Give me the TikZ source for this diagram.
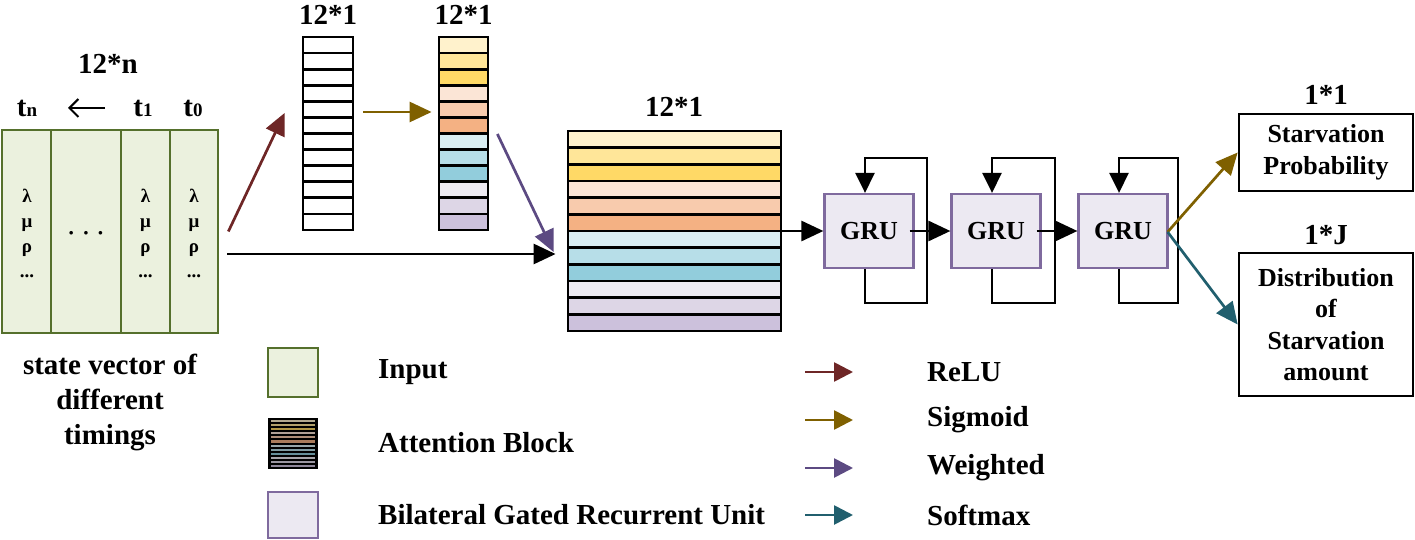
\documentclass[tikz,border=0pt]{standalone}
\usepackage{fontspec}
\setmainfont{Liberation Serif}
\usetikzlibrary{arrows.meta}
\definecolor{ingreen}{HTML}{EBF1DE}
\definecolor{ingreenD}{HTML}{55702C}
\definecolor{grufill}{HTML}{ECE9F2}
\definecolor{gruline}{HTML}{7F6A9E}
\definecolor{creLU}{HTML}{6E2626}
\definecolor{csig}{HTML}{7F6000}
\definecolor{cwgt}{HTML}{5C4A82}
\definecolor{csoft}{HTML}{215F6E}
\definecolor{r1}{HTML}{FFF2CC}
\definecolor{r2}{HTML}{FFE699}
\definecolor{r3}{HTML}{FFD966}
\definecolor{r4}{HTML}{FBE5D6}
\definecolor{r5}{HTML}{F8CBAD}
\definecolor{r6}{HTML}{F4B183}
\definecolor{r7}{HTML}{DAEEF3}
\definecolor{r8}{HTML}{B7DEE8}
\definecolor{r9}{HTML}{92CDDC}
\definecolor{r10}{HTML}{EEEBF3}
\definecolor{r11}{HTML}{DDD6E6}
\definecolor{r12}{HTML}{CCC1DC}
\begin{document}
\begin{tikzpicture}[x=1pt,y=-1pt,
  lbl/.style={font=\bfseries\fontsize{29}{34}\selectfont, inner sep=0pt},
  leg/.style={font=\bfseries\fontsize{29}{34}\selectfont, inner sep=0pt, anchor=west},
  greek/.style={font=\bfseries\fontsize{19}{25}\selectfont, inner sep=0pt, align=center},
  incol/.style={draw=ingreenD, fill=ingreen, line width=2.7pt, minimum height=203pt, inner sep=0pt},
  cellbox/.style={draw=black, line width=2.8pt, inner sep=0pt},
  grubox/.style={draw=gruline, fill=grufill, line width=2.2pt, minimum width=89pt, minimum height=74pt, inner sep=0pt, font=\bfseries\fontsize{26}{30}\selectfont},
  outbox/.style={draw=black, line width=2.7pt, minimum width=174pt, inner sep=0pt, align=center, font=\bfseries\fontsize{26}{31.5}\selectfont},
  conn/.style={line width=2.7pt, -{Triangle[length=22pt,width=20pt]}},
  legarrow/.style={line width=2.7pt, -{Triangle[length=19pt,width=19pt]}},
]
\useasboundingbox (0,0) rectangle (1415,540);

% ---------- input block ----------
\node[incol, minimum width=49pt] (cn) at (26.5,231.5) {};
\node[incol, minimum width=70pt] (cd) at (86,231.5) {};
\node[incol, minimum width=49pt] (c1) at (145.5,231.5) {};
\node[incol, minimum width=48pt] (c0) at (194,231.5) {};
\node[greek] (gn) at (27,233) {λ\\μ\\ρ\\...};
\node[greek] (g1t) at (145.5,233) {λ\\μ\\ρ\\...};
\node[greek] (g0t) at (194,233) {λ\\μ\\ρ\\...};
\node[lbl, font=\bfseries\fontsize{22}{22}\selectfont] (gd) at (86,236) {·\,\,·\,\,·};

\node[lbl] (h12n) at (108,64) {12*n};
\node[lbl] (htn) at (27,108) {t{\fontsize{19}{19}\selectfont n}};
\node[lbl] (ht1) at (143,108) {t{\fontsize{19}{19}\selectfont 1}};
\node[lbl] (ht0) at (193,108) {t{\fontsize{19}{19}\selectfont 0}};
\coordinate (tarrR) at (105,108);
\coordinate (tarrL) at (68,108);
\draw[line width=2pt, -{Straight Barb[length=9pt,width=18pt]}] (tarrR) -- (tarrL);

\node[lbl, align=center, font=\bfseries\fontsize{29}{35}\selectfont] (svtxt) at (110,402) {state vector of\\different\\timings};

% ---------- column A (white) ----------
\foreach \i in {1,...,12}
  \node[cellbox, fill=white, minimum width=50pt, minimum height=16.08pt] (a\i) at (328,{37+16.083*(\i-0.5)}) {};
\node[draw=black, line width=2.8pt, minimum width=50pt, minimum height=193pt, inner sep=0pt] (colA) at (328,133.5) {};
\node[lbl] (hA) at (328,15) {12*1};

% ---------- column B (coloured) ----------
\foreach \c [count=\i] in {r1,r2,r3,r4,r5,r6,r7,r8,r9,r10,r11,r12}
  \node[cellbox, fill=\c, minimum width=49pt, minimum height=16.08pt] (b\i) at (463.5,{37+16.083*(\i-0.5)}) {};
\node[draw=black, line width=2.8pt, minimum width=49pt, minimum height=193pt, inner sep=0pt] (colB) at (463.5,133.5) {};
\node[lbl] (hB) at (463.5,15) {12*1};

% ---------- big attention block ----------
\foreach \c [count=\i] in {r1,r2,r3,r4,r5,r6,r7,r8,r9,r10,r11,r12}
  \node[cellbox, fill=\c, minimum width=213pt, minimum height=16.67pt] (m\i) at (674.5,{131+16.667*(\i-0.5)}) {};
\node[draw=black, line width=2.8pt, minimum width=213pt, minimum height=200pt, inner sep=0pt] (att) at (674.5,231) {};
\node[lbl] (hM) at (674,107) {12*1};

% ---------- arrows into attention ----------
\draw[conn, creLU] ([xshift=9pt]c0.east) -- ([xshift=-17pt,yshift=20.5pt]colA.west);
\draw[conn, csig] ([xshift=9pt,yshift=21.5pt]colA.east) -- ([xshift=-6pt,yshift=21.5pt]colB.west);
\draw[conn, cwgt] ([xshift=8pt,yshift=-0.5pt]colB.east) -- ([xshift=-13pt,yshift=-21pt]att.west);
\coordinate (m0) at (227,254);
\draw[conn] (m0) -- ([xshift=-11pt,yshift=-23pt]att.west);

% ---------- GRU chain ----------
\node[grubox] (gru1) at (869,231) {GRU};
\node[grubox] (gru2) at (996,231) {GRU};
\node[grubox] (gru3) at (1123,231) {GRU};
\draw[conn] (att.east) -- (gru1.west);
\draw[conn] ([xshift=-5pt]gru1.east) -- (gru2.west);
\draw[conn] ([xshift=-5pt]gru2.east) -- (gru3.west);
\foreach \g/\r in {gru1/58,gru2/59,gru3/55}{
  \draw[conn, -{Triangle[length=20pt,width=19pt]}]
    ([xshift=-4pt]\g.south) -- ++(0,34) -| ([xshift=\r pt,yshift=35pt]\g.north)
    -| ([xshift=-4pt]\g.north);
}

% ---------- outputs ----------
\node[outbox, minimum height=77pt] (out1) at (1326,152.5) {Starvation\\Probability};
\node[outbox, minimum height=143pt] (out2) at (1326,324.5) {Distribution\\of\\Starvation\\amount};
\node[lbl] (h11) at (1326,95) {1*1};
\node[lbl] (h1J) at (1326,235) {1*J};
\draw[conn, csig] ([xshift=-1pt,yshift=-1pt]gru3.east) -- (out1.west);
\draw[conn, csoft] ([xshift=-1pt,yshift=-1pt]gru3.east) -- (out2.west);

% ---------- legend ----------
\node[draw=ingreenD, fill=ingreen, line width=2.7pt, minimum width=50pt, minimum height=49pt, inner sep=0pt] (lgIn) at (293,372.5) {};
\foreach \c [count=\i] in {r1,r2,r3,r4,r5,r6,r7,r8,r9,r10,r11,r12}
  \node[draw=black, fill=\c!70!black, line width=2pt, minimum width=47pt, minimum height=4.08pt, inner sep=0pt] (lgA\i) at (293,{419+4.083*(\i-0.5)}) {};
\node[draw=black, line width=2.5pt, minimum width=47pt, minimum height=49pt, inner sep=0pt] (lgAtt) at (293,443.5) {};
\node[draw=gruline, fill=grufill, line width=2.7pt, minimum width=50pt, minimum height=46pt, inner sep=0pt] (lgGru) at (293,515) {};
\node[leg] (tIn) at (378,372) {Input};
\node[leg] (tAtt) at (378,443) {Attention Block};
\node[leg] (tGru) at (378,515) {Bilateral Gated Recurrent Unit};

\foreach \n/\yy/\cc/\tt in {lr/372/creLU/ReLU, ls/420/csig/Sigmoid, lw/468/cwgt/Weighted, lf/515/csoft/Softmax}{
  \coordinate (\n0) at (805,\yy);
  \coordinate (\n1) at (853,\yy);
  \draw[legarrow, \cc] (\n0) -- (\n1);
  \node[leg] (\n t) at (927,\yy) {\tt};
}
\end{tikzpicture}
\end{document}
